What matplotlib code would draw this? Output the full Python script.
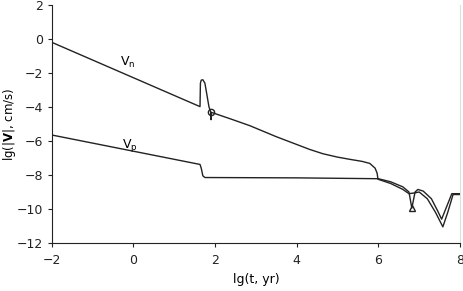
import matplotlib
matplotlib.use("Agg")
import matplotlib.pyplot as plt

# Vn series
vn_x = [-2.0, 1.63, 1.64, 1.66, 1.70, 1.75, 1.80, 1.85, 1.89, 1.90, 1.91, 1.95, 2.4, 2.85,
        3.50, 4.32, 4.64, 5.0, 5.30, 5.6, 5.79, 5.92, 5.97, 5.99, 6.3, 6.6, 6.75, 6.9, 7.0, 7.2,
        7.4, 7.58, 7.7, 7.83, 8.0]
vn_y = [-0.2, -3.98, -2.6, -2.42, -2.40, -2.6, -3.3, -4.0, -4.28, -4.75, -4.32, -4.35, -4.72,
        -5.1, -5.75, -6.5, -6.75, -6.95, -7.08, -7.2, -7.32, -7.6, -7.9, -8.25, -8.5, -8.85,
        -9.1, -9.05, -9.0, -9.4, -10.2, -11.05, -10.2, -9.15, -9.15]

# Vp series
vp_x = [-2.0, 1.63, 1.66, 1.70, 1.75, 4.0, 6.0, 6.3, 6.6, 6.75, 6.82, 6.9, 6.97, 7.1, 7.3,
        7.45, 7.55, 7.65, 7.8, 8.0]
vp_y = [-5.65, -7.38, -7.6, -8.05, -8.15, -8.17, -8.22, -8.4, -8.7, -9.0, -9.95, -9.0, -8.85,
        -8.95, -9.4, -10.1, -10.6, -10.0, -9.1, -9.1]

# markers
circle_pt = (1.89, -4.28)
tri_pt = (6.82, -9.95)

x_ticks = [-2, 0, 2, 4, 6, 8]
y_ticks = [2, 0, -2, -4, -6, -8, -10, -12]

fig = plt.figure(figsize=(4.63, 2.91), dpi=100)
ax = fig.add_axes([0.112, 0.165, 0.8815, 0.818])

lc = "#222222"
ax.plot(vn_x, vn_y, color=lc, lw=1.0)
ax.plot(vp_x, vp_y, color=lc, lw=1.0)
ax.plot([circle_pt[0]], [circle_pt[1]], marker="o", ms=4.5, mfc="none", mec=lc, mew=1.0)
ax.plot([tri_pt[0]], [tri_pt[1]], marker="^", ms=4.5, mfc="none", mec=lc, mew=1.0)

ax.text(-0.33, -1.41, r"V$_\mathregular{n}$", fontsize=9, ha="left", va="center")
ax.text(-0.28, -6.24, r"V$_\mathregular{p}$", fontsize=9, ha="left", va="center")

ax.set_xlim(-2, 8)
ax.set_ylim(-12, 2)
ax.set_xticks(x_ticks)
ax.set_yticks(y_ticks)
ax.tick_params(labelsize=9, length=3, width=0.8, direction="out", colors="#222222")
ax.tick_params(axis="x", pad=5)
ax.spines["top"].set_visible(False)
ax.spines["right"].set_color("#dddddd")
ax.spines["right"].set_linewidth(0.8)
for s in ("left", "bottom"):
    ax.spines[s].set_linewidth(0.8)
    ax.spines[s].set_color("#222222")

ax.set_xlabel("lg(t, yr)", fontsize=9)
ax.set_ylabel(r"lg(|$\mathbf{V}$|, cm/s)", fontsize=8.5)
ax.xaxis.set_label_coords(0.5, -0.125)
ax.yaxis.set_label_coords(-0.082, 0.5)

fig.savefig("out.png", dpi=100)
